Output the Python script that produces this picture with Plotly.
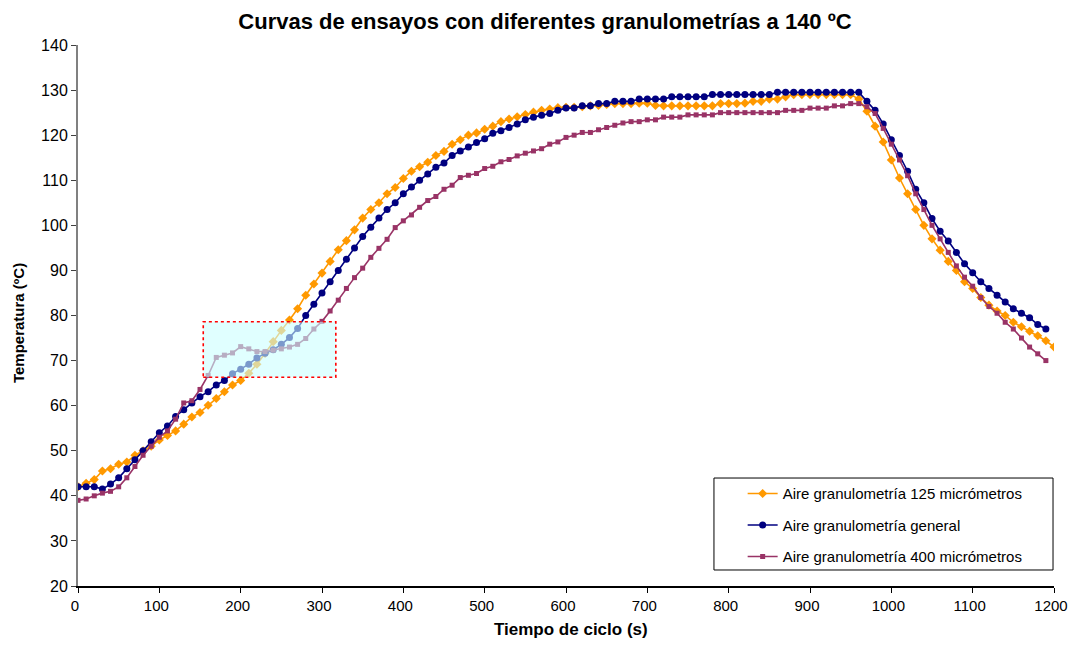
import plotly.graph_objects as go

# ---- data (time step 10 s) ----
t_125 = list(range(0, 1201, 10))
t_gen = list(range(0, 1191, 10))
t_400 = list(range(0, 1191, 10))

temp_125 = [
    42, 42.8, 43.6, 45.5, 46, 47, 47.5, 49, 50, 51,
    52.4, 53.4, 54.4, 55.9, 57.5, 58.5, 60.1, 61.6, 63.1, 64.6,
    65.6, 67.2, 69.2, 71.6, 74.2, 76.7, 79, 81.5, 84.5, 87,
    89.4, 92, 94.6, 96.6, 99, 101.6, 103.5, 105, 107, 108.4,
    110.4, 112, 113, 114, 115.5, 116.4, 118, 119, 120, 120.5,
    121.3, 122, 123, 123.6, 124.1, 124.6, 125.1, 125.5, 125.8, 126.1,
    126.2, 126.2, 126.3, 126.5, 126.6, 126.8, 127, 127, 127, 127.1,
    127.1, 126.6, 126.5, 126.5, 126.5, 126.5, 126.5, 126.5, 126.5, 127,
    127, 127, 127.1, 127.5, 127.5, 128, 128, 128.5, 129, 129,
    129, 129, 129, 129, 129, 129, 128, 125.3, 122, 118.5,
    114.5, 110.5, 107, 103.5, 100, 97, 94.5, 92, 90, 87.5,
    86, 84, 82.3, 81, 80, 78.5, 77.5, 76.5, 75.5, 74.4,
    73,
]

temp_gen = [
    42, 42, 42, 41.5, 42.6, 44, 46, 48, 50, 52,
    54, 55.5, 57.6, 59.1, 60.6, 62, 63.1, 64.6, 65.6, 67.1,
    68.1, 69.2, 70.6, 71.6, 72.4, 73.6, 75.1, 77.1, 80, 82.5,
    85, 87.5, 90, 92.5, 95, 97.5, 99.6, 101.6, 103.5, 105,
    107, 108.5, 110, 111.4, 112.9, 113.8, 115.5, 116.5, 117.4, 118.4,
    119.2, 120.4, 121, 121.7, 122.5, 123.4, 124, 124.4, 124.8, 125.5,
    126, 126, 126.5, 126.5, 127, 127, 127.5, 127.5, 127.5, 128,
    128, 128, 128, 128.5, 128.5, 128.5, 128.5, 128.5, 129, 129,
    129, 129, 129, 129, 129, 129, 129.5, 129.5, 129.5, 129.5,
    129.5, 129.5, 129.5, 129.5, 129.5, 129.5, 129.5, 127.5, 125.5, 122.5,
    119, 115.5, 112, 108, 105, 101.5, 98.7, 96.5, 94, 91.5,
    89.5, 87.5, 86, 84.5, 83, 81.5, 80.5, 79.5, 78, 77,
]

temp_400 = [
    39, 39.3, 40, 40.6, 41, 42, 44, 46.5, 49, 51,
    53, 54.4, 57, 60.6, 61.1, 63.6, 66.7, 70.7, 71.2, 71.7,
    73.1, 72.6, 72, 72, 72.3, 72.6, 73, 73.6, 74.9, 77,
    78.7, 81, 83.4, 86, 88.4, 90.5, 92.9, 94.9, 96.9, 99.5,
    101, 102.3, 104, 105.5, 106.4, 108, 108.9, 110.6, 111.1, 111.5,
    112.6, 113.1, 114.1, 114.6, 115.4, 116, 116.5, 117, 118, 118.5,
    119.5, 120, 120.6, 120.6, 121.2, 121.7, 122.2, 122.7, 123, 123,
    123.4, 123.4, 124, 124, 124, 124.5, 124.5, 124.5, 124.5, 125,
    125, 125, 125, 125, 125, 125, 125, 125.5, 125.5, 125.5,
    126, 126, 126, 126.5, 126.5, 127, 127, 126.3, 124.8, 121.5,
    118, 114.5, 111, 107, 103.5, 100, 97, 94, 91, 88.5,
    86.5, 84, 82, 80.5, 78.5, 77, 75, 73, 71.5, 70,
]

names = [
    "Aire granulometría 125 micrómetros",
    "Aire granulometría general",
    "Aire granulometría 400 micrómetros",
]

x_ticks = list(range(0, 1201, 100))
y_ticks = list(range(20, 141, 10))

# highlighted region (data coordinates)
box_x = [154, 317]
box_y = [66.3, 78.6]

FONT = "Liberation Sans, Arial, sans-serif"

fig = go.Figure()
styles = [
    dict(color="#FF9900", symbol="diamond", size=7),
    dict(color="#000080", symbol="circle", size=7),
    dict(color="#993366", symbol="square", size=5),
]
for i, (xs, ys) in enumerate([(t_125, temp_125), (t_gen, temp_gen), (t_400, temp_400)]):
    s = styles[i]
    fig.add_trace(go.Scatter(
        x=xs, y=ys, name=names[i], mode="lines+markers",
        legendgroup=f"g{i}",
        line=dict(color=s["color"], width=1.6),
        marker=dict(color=s["color"], symbol=s["symbol"], size=s["size"], line=dict(width=0)),
    ))

fig.add_shape(type="rect", xref="x", yref="y",
              x0=box_x[0], x1=box_x[1], y0=box_y[0], y1=box_y[1],
              fillcolor="rgba(204,255,255,0.6)",
              line=dict(color="#FF0000", width=1.6, dash="dot"), layer="above")

# legend frame
fig.add_shape(type="rect", xref="paper", yref="paper",
              x0=0.6516, x1=0.999, y0=0.0296, y1=0.1996,
              line=dict(color="black", width=1), fillcolor="rgba(0,0,0,0)", layer="above")

# axis titles as annotations
fig.add_annotation(text="<b>Temperatura (ºC)</b>", xref="paper", yref="paper",
                   x=-0.0615, y=0.486, xanchor="center", yanchor="middle",
                   textangle=-90, showarrow=False,
                   font=dict(family=FONT, size=15, color="black"))
fig.add_annotation(text="<b>Tiempo de ciclo (s)</b>", xref="paper", yref="paper",
                   x=0.505, y=-0.081, xanchor="center", yanchor="middle",
                   showarrow=False,
                   font=dict(family=FONT, size=17, color="black"))

W, H = 1060, 634
fig.update_layout(
    width=W, height=H,
    margin=dict(l=70, r=14, t=37, b=56),
    paper_bgcolor="white", plot_bgcolor="white",
    font=dict(family=FONT, size=16, color="black"),
    title=dict(text="<b>Curvas de ensayos con diferentes granulometrías a 140 ºC</b>",
               x=537 / W, xref="container", xanchor="center",
               y=1 - 13 / H, yref="container", yanchor="middle",
               font=dict(family=FONT, size=22, color="black")),
    showlegend=True,
    legend=dict(x=0.681, xanchor="left", y=0.201, yanchor="top",
                bgcolor="rgba(0,0,0,0)", borderwidth=0,
                font=dict(family=FONT, size=15, color="black"),
                tracegroupgap=9, traceorder="grouped", itemwidth=30),
)

fig.update_xaxes(
    range=[0, 1200], tickvals=x_ticks, ticktext=[str(v) for v in x_ticks],
    automargin=False,
    showgrid=False, zeroline=False,
    showline=True, linecolor="black", linewidth=1.5,
    ticks="outside", ticklen=5, tickcolor="black", tickwidth=1,
    ticklabelshift=-3,
    tickfont=dict(family=FONT, size=15, color="black"),
)
fig.update_yaxes(
    range=[20, 140], tickvals=y_ticks, ticktext=[str(v) for v in y_ticks],
    automargin=False,
    showgrid=False, zeroline=False,
    showline=True, linecolor="#808080", linewidth=2,
    ticks="outside", ticklen=5, tickcolor="#404040", tickwidth=1,
    tickfont=dict(family=FONT, size=16, color="black"),
)

fig.write_html("out.html")
